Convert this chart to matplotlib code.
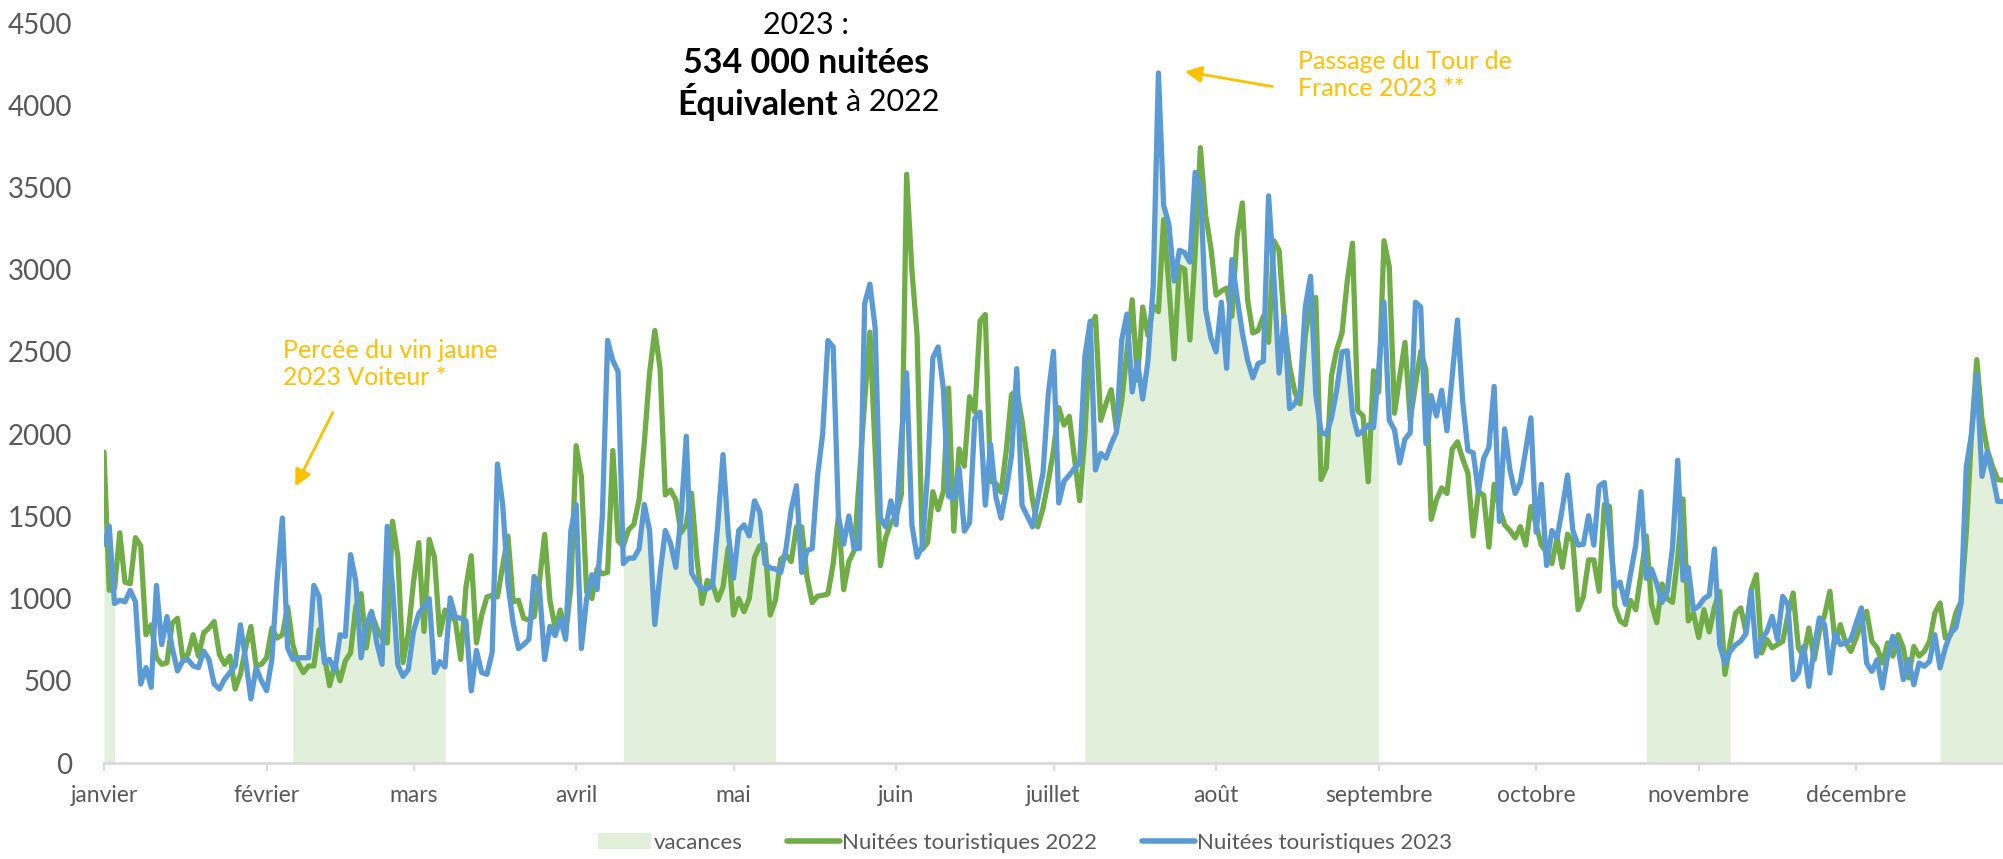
import numpy as np
import matplotlib
matplotlib.use("Agg")
import matplotlib.pyplot as plt
from matplotlib.lines import Line2D
from matplotlib.patches import Patch

plt.rcParams["font.family"] = ["Lato", "DejaVu Sans"]

# axe des dates : un point par jour depuis le 1er janvier
months = ["janvier", "février", "mars", "avril", "mai", "juin",
          "juillet", "août", "septembre", "octobre", "novembre", "décembre"]
month_starts = [0, 31, 59, 90, 120, 151, 181, 212, 243, 273, 304, 334]

# périodes de vacances (indices de jour, bornes incluses)
vacation_starts = [0, 36, 99, 187, 294, 350]
vacation_ends = [2, 65, 128, 243, 310, 362]

nuitees_2022 = [
    1890, 1050, 1060, 1400, 1100, 1090, 1370, 1320, 780, 840,
    640, 600, 610, 850, 880, 640, 660, 780, 650, 790,
    820, 860, 660, 600, 650, 450, 540, 700, 830, 590,
    600, 640, 820, 760, 780, 950, 720, 610, 550, 590,
    590, 810, 650, 470, 600, 500, 620, 670, 950, 1030,
    700, 910, 820, 760, 730, 1470, 1260, 610, 790, 1100,
    1340, 800, 1360, 1250, 780, 930, 900, 860, 630, 1070,
    1260, 730, 900, 1010, 1020, 1010, 1200, 1380, 980, 990,
    880, 870, 890, 1100, 1390, 990, 820, 930, 780, 1070,
    1930, 1740, 1040, 1000, 1180, 1150, 1160, 1900, 1350, 1320,
    1420, 1450, 1600, 1950, 2370, 2630, 2400, 1630, 1660, 1600,
    1400, 1450, 1640, 1250, 970, 1110, 1090, 990, 1070, 1310,
    900, 1000, 920, 1000, 1250, 1320, 1330, 900, 990, 1240,
    1265, 1225, 1436, 1436, 1133, 975, 1014, 1020, 1028, 1212,
    1500, 1054, 1225, 1291, 1739, 2200, 2620, 1900, 1200, 1370,
    1460, 1500, 1634, 3580, 3000, 2600, 1300, 1340, 1650, 1540,
    1650, 2280, 1410, 1910, 1805, 2227, 2134, 2688, 2727, 1713,
    1700, 1647, 1900, 2240, 2266, 2082, 1845, 1600, 1436, 1550,
    1713, 1900, 2161, 2055, 2108, 1850, 1595, 2000, 2650, 2716,
    2084, 2184, 2270, 2026, 2200, 2500, 2817, 2328, 2773, 2600,
    2780, 2745, 3305, 2900, 2457, 3018, 3003, 2572, 3100, 3742,
    3334, 3133, 2845, 2870, 2888, 2716, 3205, 3406, 2817, 2615,
    2630, 2716, 2558, 3176, 3118, 2673, 2414, 2256, 2184, 2600,
    2800, 2831, 1724, 1796, 2357, 2515, 2615, 2931, 3161, 2141,
    2112, 1710, 2385, 2256, 3176, 3018, 2127, 2350, 2558, 2084,
    2300, 2503, 2391, 1482, 1600, 1673, 1639, 1908, 1953, 1850,
    1762, 1381, 1650, 1628, 1313, 1695, 1550, 1448, 1414, 1369,
    1437, 1325, 1560, 1450, 1325, 1280, 1212, 1369, 1190, 1392,
    1347, 932, 1010, 1235, 1235, 1044, 1572, 1560, 954, 864,
    842, 988, 932, 1150, 1381, 965, 853, 1089, 999, 977,
    1250, 1605, 864, 909, 763, 932, 797, 950, 1044, 539,
    730, 909, 943, 797, 1054, 1145, 669, 750, 700, 720,
    740, 900, 1034, 700, 650, 821, 628, 800, 900, 1044,
    730, 841, 730, 679, 760, 850, 922, 740, 700, 608,
    730, 650, 780, 700, 517, 709, 650, 679, 740, 912,
    973, 760, 780, 912, 980, 1400, 2000, 2453, 2088, 1905,
    1804, 1723, 1720,
]

nuitees_2023 = [
    1330, 1440, 970, 990, 980, 1050, 980, 480, 580, 460,
    1080, 720, 890, 700, 560, 620, 630, 590, 580, 680,
    630, 480, 450, 510, 550, 590, 840, 630, 390, 580,
    500, 440, 630, 1115, 1490, 700, 630, 640, 640, 640,
    1080, 1013, 610, 630, 560, 780, 770, 1267, 1105, 640,
    841, 922, 730, 600, 1439, 1074, 598, 527, 568, 800,
    909, 950, 999, 550, 617, 584, 1004, 887, 880, 864,
    438, 685, 550, 539, 674, 1818, 1572, 1089, 850, 696,
    720, 752, 1134, 1066, 629, 831, 775, 876, 752, 1414,
    1572, 696, 999, 1145, 1055, 1500, 2570, 2447, 2380, 1212,
    1246, 1246, 1302, 1572, 1414, 842, 1150, 1414, 1336, 1190,
    1500, 1987, 1156, 1100, 1055, 1060, 1078, 1450, 1875, 1400,
    1123, 1414, 1448, 1381, 1594, 1528, 1212, 1186, 1180, 1159,
    1300, 1541, 1686, 1159, 1291, 1304, 1739, 2003, 2569, 2530,
    1500, 1331, 1502, 1304, 1304, 2793, 2912, 2648, 1489, 1436,
    1594, 1449, 1976, 2372, 1449, 1252, 1318, 1765, 2464, 2530,
    2279, 1621, 1607, 1792, 1410, 1462, 2095, 2134, 1568, 1937,
    1620, 1489, 1660, 1871, 2398, 1568, 1502, 1436, 1600, 1765,
    2240, 2503, 1581, 1713, 1750, 1792, 1825, 2477, 2687, 1782,
    1882, 1854, 1940, 2012, 2572, 2730, 2256, 2443, 2213, 2443,
    2900, 4196, 3391, 3276, 2931, 3118, 3104, 3046, 3592, 3506,
    2759, 2587, 2500, 2802, 2400, 3061, 2830, 2615, 2450, 2342,
    2429, 2443, 3449, 2960, 2371, 2716, 2155, 2184, 2256, 2773,
    2960, 2242, 2012, 1997, 2100, 2270, 2500, 2506, 2127, 1997,
    2020, 2055, 2040, 2400, 2802, 2084, 2026, 1825, 1969, 2009,
    2802, 2773, 1942, 2234, 2110, 2267, 2020, 2350, 2694, 2200,
    1900, 1886, 1650, 1852, 1919, 2290, 1470, 2032, 1785, 1639,
    1706, 1900, 2099, 1403, 1695, 1201, 1414, 1369, 1550, 1751,
    1414, 1325, 1330, 1504, 1325, 1684, 1706, 1400, 1066, 1100,
    965, 1150, 1325, 1650, 1123, 1179, 1089, 977, 1044, 1313,
    1841, 1111, 1190, 932, 954, 999, 1021, 1302, 718, 606,
    680, 718, 741, 786, 1044, 649, 750, 800, 892, 750,
    1013, 963, 507, 547, 709, 466, 700, 882, 841, 547,
    790, 720, 730, 750, 850, 943, 608, 557, 628, 456,
    650, 770, 700, 507, 628, 476, 608, 588, 618, 780,
    578, 700, 790, 821, 970, 1800, 2000, 2361, 1743, 1895,
    1750, 1591, 1590,
]

GREEN = "#70ad47"
BLUE = "#5b9bd5"
SHADE = "#e2efda"
ORANGE = "#ffc000"
GREY = "#595959"

days = np.arange(len(nuitees_2023))
values_2022 = np.array(nuitees_2022)
values_2023 = np.array(nuitees_2023)

W, H = 2003, 859
fig = plt.figure(figsize=(W / 100, H / 100), dpi=100)
ax = fig.add_axes([104 / W, 1 - 763 / H, 1 - 104 / W, (763 - 23) / H])

for start, end in zip(vacation_starts, vacation_ends):
    mask = (days >= start) & (days <= end)
    ax.fill_between(days[mask], 0, values_2023[mask], color=SHADE, lw=0, zorder=1)

line_kw = dict(lw=3.8, solid_joinstyle="round", solid_capstyle="round", zorder=3)
ax.plot(days, values_2022, color=GREEN, **line_kw)
ax.plot(days, values_2023, color=BLUE, **line_kw)

ax.set_xlim(0, days[-1])
ax.set_ylim(0, 4500)
ax.set_yticks(range(0, 4501, 500))
ax.set_xticks(month_starts, months)
ax.tick_params(axis="y", length=0, labelsize=20, labelcolor=GREY, pad=23)
ax.tick_params(axis="x", length=6, width=1.5, color="#d9d9d9", labelsize=16.5,
               labelcolor=GREY, pad=10)
for side in ["left", "right", "top"]:
    ax.spines[side].set_visible(False)
ax.spines["bottom"].set_color("#d9d9d9")
ax.spines["bottom"].set_linewidth(2)
ax.spines["bottom"].set_zorder(4)


def fx(px):
    return (px - 104) / 5.245


def fy(py):
    return (763 - py) * 6.081


# annotations
ax.text(fx(283), fy(364), "Percée du vin jaune\n2023 Voiteur *", color=ORANGE,
        fontsize=18, ha="left", va="center", linespacing=1.25)
ax.annotate("", xy=(fx(294), fy(489)), xytext=(fx(334), fy(410)),
            arrowprops=dict(arrowstyle="-|>", color=ORANGE, lw=2, mutation_scale=25))
ax.text(fx(1298), fy(75), "Passage du Tour de\nFrance 2023 **", color=ORANGE,
        fontsize=18, ha="left", va="center", linespacing=1.25)
ax.annotate("", xy=(fx(1182), fy(71)), xytext=(fx(1275), fy(87)),
            arrowprops=dict(arrowstyle="-|>", color=ORANGE, lw=2, mutation_scale=25))

# titre
fig.text(806 / W, 1 - 25 / H, "2023 :", fontsize=22, ha="center", va="center")
fig.text(806 / W, 1 - 63 / H, "534 000 nuitées", fontsize=24.5, fontweight="bold",
         ha="center", va="center")
fig.text(838 / W, 1 - 102 / H, "Équivalent", fontsize=24.5, fontweight="bold",
         ha="right", va="center")
fig.text(846 / W, 1 - 102 / H, "à 2022", fontsize=22, ha="left", va="center")

handles = [
    Patch(facecolor=SHADE, edgecolor="none"),
    Line2D([], [], color=GREEN, lw=4, solid_capstyle="round"),
    Line2D([], [], color=BLUE, lw=4, solid_capstyle="round"),
]
labels = ["vacances", "Nuitées touristiques 2022", "Nuitées touristiques 2023"]
leg = fig.legend(handles, labels, loc="center", bbox_to_anchor=(1025 / W, 1 - 843 / H),
                 ncol=3, frameon=False, fontsize=16, handlelength=2.4,
                 handletextpad=0.1, columnspacing=2.0)
for text in leg.get_texts():
    text.set_color(GREY)

fig.savefig("out.png", dpi=100)
